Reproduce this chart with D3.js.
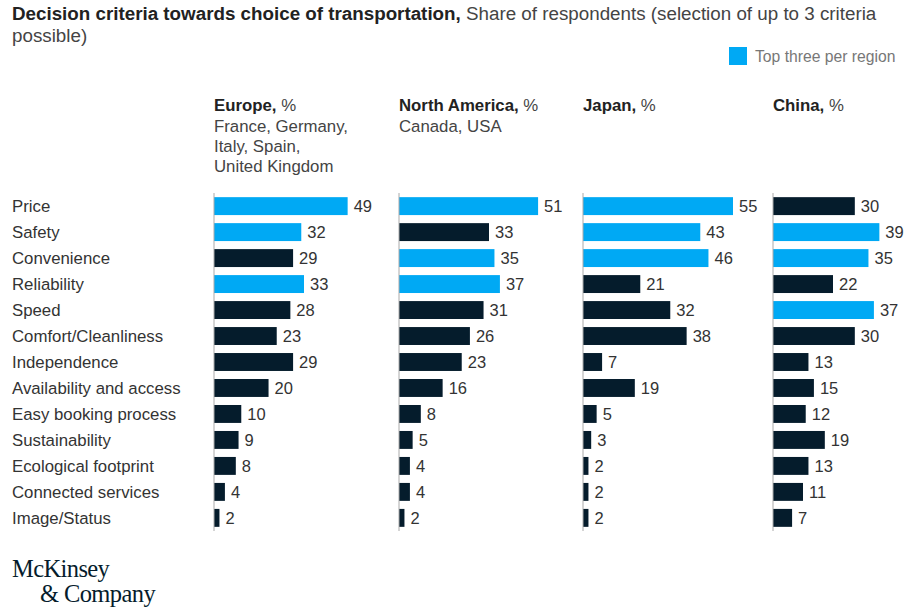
<!DOCTYPE html>
<html>
<head>
<meta charset="utf-8">
<script src="https://cdn.jsdelivr.net/npm/d3@7"></script>
<style>
  html, body { margin: 0; padding: 0; background: #fff; }
  svg { display: block; font-family: "Liberation Sans", Arial, sans-serif; }
</style>
</head>
<body>
<svg id="chart" width="907" height="612"></svg>
<script>
// Decision criteria (rows, top to bottom)
const criteria = [
  "Price", "Safety", "Convenience", "Reliability", "Speed",
  "Comfort/Cleanliness", "Independence", "Availability and access",
  "Easy booking process", "Sustainability", "Ecological footprint",
  "Connected services", "Image/Status"
];

// Share of respondents per region, %
const europe       = [49, 32, 29, 33, 28, 23, 29, 20, 10, 9, 8, 4, 2];
const northAmerica = [51, 33, 35, 37, 31, 26, 23, 16, 8, 5, 4, 4, 2];
const japan        = [55, 43, 46, 21, 32, 38, 7, 19, 5, 3, 2, 2, 2];
const china        = [30, 39, 35, 22, 37, 30, 13, 15, 12, 19, 13, 11, 7];

// Region headers
const regionNames = ["Europe,", "North America,", "Japan,", "China,"];
const regionNotes = [
  ["France, Germany,", "Italy, Spain,", "United Kingdom"],
  ["Canada, USA"],
  [],
  []
];

const regions = regionNames.map((name, i) => ({
  name,
  notes: regionNotes[i],
  values: [europe, northAmerica, japan, china][i]
}));

const NAVY = "#051c2c";
const BLUE = "#00a9f4";
const TEXT = "#333";

const svg = d3.select("#chart");

// Title
const title = svg.append("text")
  .attr("x", 12).attr("y", 20)
  .attr("font-size", 18.8).attr("fill", "#222");
title.append("tspan").attr("font-weight", "bold")
  .text("Decision criteria towards choice of transportation,");
title.append("tspan").attr("fill", "#444")
  .text(" Share of respondents (selection of up to 3 criteria");
svg.append("text")
  .attr("x", 12).attr("y", 42)
  .attr("font-size", 18.8).attr("fill", "#444")
  .text("possible)");

// Legend
svg.append("rect")
  .attr("x", 729).attr("y", 47).attr("width", 18).attr("height", 18)
  .attr("fill", BLUE);
svg.append("text")
  .attr("x", 755).attr("y", 62)
  .attr("font-size", 15.7).attr("fill", "#777")
  .text("Top three per region");

// Scales
const y = d3.scaleBand()
  .domain(criteria)
  .range([193, 531])
  .paddingInner(0.31)
  .paddingOuter(0.16);

const panelX = d3.scaleOrdinal()
  .domain(regionNames)
  .range([214, 399, 583, 773]);

const x = d3.scaleLinear().domain([0, 55]).range([0, 150]);

// Row labels
svg.append("g")
  .selectAll("text")
  .data(criteria)
  .join("text")
  .attr("x", 12)
  .attr("y", d => y(d) + y.bandwidth() / 2)
  .attr("dy", "0.36em")
  .attr("font-size", 16.8)
  .attr("fill", TEXT)
  .text(d => d);

// Panels
const panels = svg.append("g")
  .selectAll("g.panel")
  .data(regions)
  .join("g")
  .attr("class", "panel")
  .attr("transform", d => `translate(${panelX(d.name)},0)`);

// Headers
panels.each(function (d) {
  const g = d3.select(this);
  const h = g.append("text").attr("x", 0).attr("y", 111)
    .attr("font-size", 16.8).attr("fill", "#222");
  h.append("tspan").attr("font-weight", "bold").text(d.name);
  h.append("tspan").attr("fill", "#444").text(" %");
  g.selectAll("text.note")
    .data(d.notes)
    .join("text")
    .attr("class", "note")
    .attr("x", 0)
    .attr("y", (n, i) => 132 + i * 20)
    .attr("font-size", 16.8)
    .attr("fill", "#444")
    .text(n => n);
});

// Bars
panels.each(function (d) {
  const g = d3.select(this);
  const top3 = d.values.slice().sort((a, b) => b - a)[2];
  const rows = criteria.map((c, i) => ({ c, v: d.values[i], top: d.values[i] >= top3 }));

  g.selectAll("rect.bar")
    .data(rows)
    .join("rect")
    .attr("class", "bar")
    .attr("x", 0)
    .attr("y", r => y(r.c))
    .attr("width", r => x(r.v))
    .attr("height", y.bandwidth())
    .attr("fill", r => r.top ? BLUE : NAVY);

  g.selectAll("text.val")
    .data(rows)
    .join("text")
    .attr("class", "val")
    .attr("x", r => x(r.v) + 6)
    .attr("y", r => y(r.c) + y.bandwidth() / 2)
    .attr("dy", "0.36em")
    .attr("font-size", 16.5)
    .attr("fill", TEXT)
    .text(r => r.v);

  // Baseline
  g.append("line")
    .attr("x1", 0).attr("x2", 0)
    .attr("y1", 193).attr("y2", 531)
    .attr("stroke", "#aaa").attr("stroke-width", 1);
});

// Logo
const logo = svg.append("g").attr("fill", NAVY)
  .attr("font-family", "'Liberation Serif', 'DejaVu Serif', serif")
  .attr("font-size", 24.5)
  .attr("letter-spacing", -0.6);
logo.append("text").attr("x", 12).attr("y", 577).text("McKinsey");
logo.append("text").attr("x", 40).attr("y", 602).text("& Company");
</script>
</body>
</html>
